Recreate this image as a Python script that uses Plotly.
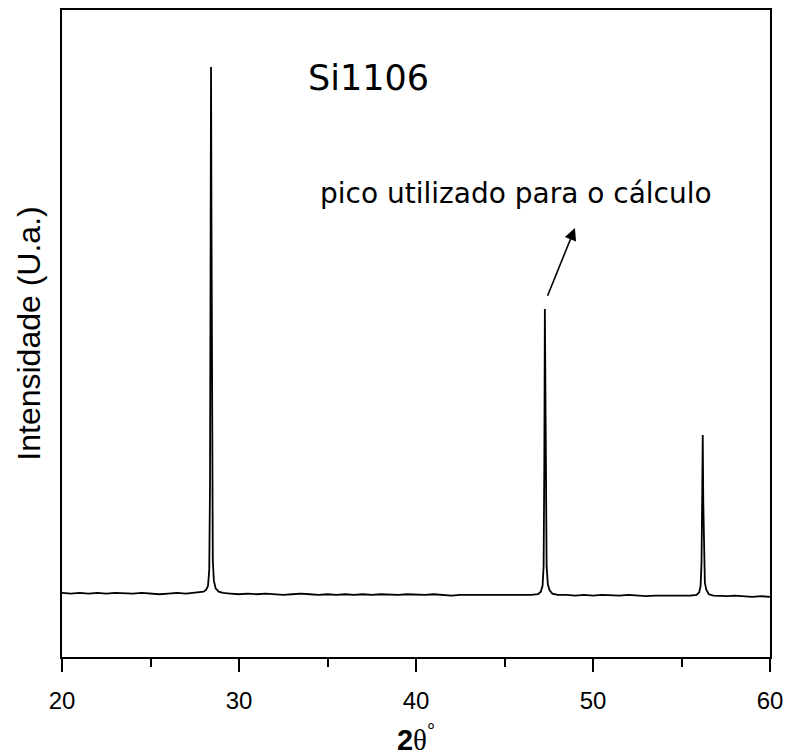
import plotly.graph_objects as go

# XRD pattern (2theta in degrees, intensity in a.u.)
two_theta = [
    20.0, 20.5, 21.0, 21.5, 22.0, 22.5, 23.0, 23.5, 24.0, 24.5, 25.0, 25.5,
    26.0, 26.5, 27.0, 27.5, 27.8, 28.0, 28.15, 28.25, 28.32, 28.36, 28.39,
    28.42, 28.45, 28.48, 28.52, 28.58, 28.68, 28.85, 29.1, 29.5, 30.0, 30.5,
    31.0, 31.5, 32.0, 32.5, 33.0, 33.5, 34.0, 34.5, 35.0, 35.5, 36.0, 36.5,
    37.0, 37.5, 38.0, 38.5, 39.0, 39.5, 40.0, 40.5, 41.0, 41.5, 42.0, 42.5,
    43.0, 43.5, 44.0, 44.5, 45.0, 45.5, 46.0, 46.5, 46.9, 47.05, 47.15,
    47.21, 47.25, 47.28, 47.31, 47.34, 47.38, 47.45, 47.55, 47.7, 48.0,
    48.5, 49.0, 49.5, 50.0, 50.5, 51.0, 51.5, 52.0, 52.5, 53.0, 53.5, 54.0,
    54.5, 55.0, 55.5, 55.85, 56.0, 56.08, 56.13, 56.17, 56.2, 56.23, 56.27,
    56.32, 56.4, 56.55, 56.8, 57.2, 57.6, 58.0, 58.5, 59.0, 59.5, 60.0,
]
intensity = [
    99, 98, 99, 98, 99, 98, 99, 98, 98, 99, 98, 97,
    98, 99, 98, 99, 100, 101, 104, 110, 135, 260, 560,
    912, 640, 330, 150, 118, 106, 101, 99, 98, 97, 98,
    97, 98, 97, 96, 97, 98, 97, 96, 97, 96, 97, 96,
    97, 96, 97, 96, 96, 97, 96, 96, 97, 96, 95, 96,
    96, 95, 96, 96, 95, 96, 96, 96, 97, 101, 110,
    140, 300, 538, 420, 250, 140, 112, 103, 98, 96,
    96, 95, 96, 95, 96, 95, 95, 96, 95, 94, 95, 95,
    94, 95, 95, 96, 100, 110, 145, 250, 343, 240, 150,
    115, 104, 97, 95, 94, 94, 95, 94, 93, 94, 93,
]

x_ticks = [20, 30, 40, 50, 60]
title_text = "Si1106"
title_pos = (37.3, 895)
note_text = "pico utilizado para o cálculo"
note_pos = (45.65, 717)
arrow_head = (48.98, 663)
arrow_tail = (47.40, 556)

font_family = "Liberation Sans, Arial, sans-serif"
wide_family = "DejaVu Sans, sans-serif"

fig = go.Figure()
fig.add_trace(go.Scatter(
    x=two_theta, y=intensity, mode="lines",
    line=dict(color="black", width=1.8),
    showlegend=False, hoverinfo="skip",
))

fig.add_annotation(x=title_pos[0], y=title_pos[1], text=title_text,
                   showarrow=False, font=dict(size=35, color="black", family=wide_family))
fig.add_annotation(x=note_pos[0], y=note_pos[1], text=note_text,
                   showarrow=False, font=dict(size=28, color="black", family=wide_family))
fig.add_annotation(x=arrow_head[0], y=arrow_head[1], ax=arrow_tail[0], ay=arrow_tail[1],
                   xref="x", yref="y", axref="x", ayref="y", text="",
                   showarrow=True, arrowhead=2, arrowsize=1.5, arrowwidth=1.6,
                   arrowcolor="black")

fig.update_layout(
    width=786, height=756,
    margin=dict(l=62, r=16, t=10, b=99),
    paper_bgcolor="white", plot_bgcolor="white",
    font=dict(family=font_family, color="black"),
    xaxis=dict(
        range=[20, 60], tickvals=x_ticks, ticks="outside", ticklen=13,
        tickwidth=2, tickcolor="black", showline=True, linewidth=2,
        linecolor="black", mirror=True, showgrid=False, zeroline=False,
        automargin=False, ticklabelstandoff=8,
        tickfont=dict(size=24, family=font_family),
        minor=dict(tickvals=[25, 35, 45, 55], ticks="outside", ticklen=8,
                   tickwidth=2, tickcolor="black"),
        title=dict(
            text="<b>2</b><span style=\"font-family:'Liberation Serif', serif\">θ</span><sup>°</sup>",
            font=dict(size=29, family=font_family), standoff=22),
    ),
    yaxis=dict(
        range=[0, 1000], showticklabels=False, ticks="", showline=True,
        linewidth=2, linecolor="black", mirror=True, showgrid=False,
        zeroline=False, automargin=False,
        title=dict(text="Intensidade (U.a.)", font=dict(size=32, family=font_family),
                   standoff=10),
    ),
)

fig.write_html(
    "out.html",
    config={"displayModeBar": False},
    post_script="document.body.style.margin='0';document.body.style.overflow='hidden';",
)
